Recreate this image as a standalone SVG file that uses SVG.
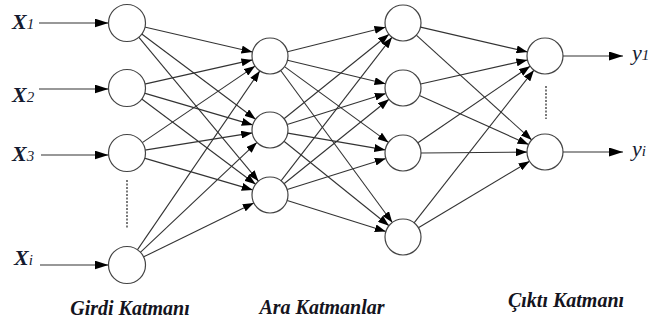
<svg xmlns="http://www.w3.org/2000/svg" width="649" height="323" viewBox="0 0 649 323">
<style>
.n{fill:#fff;stroke:#444;stroke-width:1.2}
.e{stroke:#333;stroke-width:1.1;fill:none;marker-end:url(#ah)}
.io{stroke:#333;stroke-width:1.2;fill:none;marker-end:url(#ahb)}
.d{stroke:#333;stroke-width:1.3;stroke-dasharray:2,1.5}
</style>
<defs>
<marker id="ah" markerUnits="userSpaceOnUse" markerWidth="11" markerHeight="8" refX="11" refY="4" orient="auto"><path d="M0,0 L11,4 L0,8 z" fill="#000"/></marker>
<marker id="ahb" markerUnits="userSpaceOnUse" markerWidth="14" markerHeight="9" refX="14" refY="4.5" orient="auto"><path d="M0,0 L14,4.5 L0,9 z" fill="#000"/></marker>
</defs>
<rect width="649" height="323" fill="#fff"/>
<g id="connectors">
<line class="io" x1="39" y1="23" x2="108.5" y2="23"/>
<line class="io" x1="39" y1="89" x2="108.5" y2="89"/>
<line class="io" x1="41" y1="155" x2="108.5" y2="155"/>
<line class="io" x1="40" y1="265" x2="108.5" y2="265"/>
<line class="e" x1="144.5" y1="27.0" x2="252.5" y2="52.0"/>
<line class="e" x1="141.4" y1="33.8" x2="255.6" y2="119.2"/>
<line class="e" x1="138.5" y1="36.8" x2="258.5" y2="181.2"/>
<line class="e" x1="144.6" y1="84.1" x2="252.4" y2="59.9"/>
<line class="e" x1="144.3" y1="93.1" x2="252.7" y2="124.9"/>
<line class="e" x1="141.4" y1="98.8" x2="255.6" y2="184.2"/>
<line class="e" x1="141.9" y1="142.9" x2="255.1" y2="66.1"/>
<line class="e" x1="144.8" y1="150.1" x2="252.2" y2="132.9"/>
<line class="e" x1="144.3" y1="158.1" x2="252.7" y2="189.9"/>
<line class="e" x1="137.2" y1="250.1" x2="259.8" y2="70.9"/>
<line class="e" x1="140.1" y1="252.6" x2="256.9" y2="142.4"/>
<line class="e" x1="143.2" y1="257.1" x2="253.8" y2="202.9"/>
<line class="e" x1="287.5" y1="51.7" x2="385.5" y2="27.3"/>
<line class="e" x1="287.5" y1="60.2" x2="385.5" y2="83.8"/>
<line class="e" x1="284.5" y1="66.6" x2="388.5" y2="142.4"/>
<line class="e" x1="280.7" y1="70.5" x2="392.3" y2="222.5"/>
<line class="e" x1="284.0" y1="118.7" x2="389.0" y2="34.3"/>
<line class="e" x1="287.2" y1="124.6" x2="385.8" y2="93.4"/>
<line class="e" x1="287.7" y1="133.1" x2="385.3" y2="149.9"/>
<line class="e" x1="284.0" y1="141.3" x2="389.0" y2="225.7"/>
<line class="e" x1="281.0" y1="180.8" x2="392.0" y2="37.2"/>
<line class="e" x1="284.0" y1="183.7" x2="389.0" y2="99.3"/>
<line class="e" x1="287.2" y1="189.6" x2="385.8" y2="158.4"/>
<line class="e" x1="287.2" y1="200.4" x2="385.8" y2="231.6"/>
<line class="e" x1="420.5" y1="27.1" x2="527.5" y2="51.9"/>
<line class="e" x1="416.3" y1="35.1" x2="531.7" y2="139.9"/>
<line class="e" x1="420.6" y1="84.0" x2="527.4" y2="60.0"/>
<line class="e" x1="419.4" y1="95.4" x2="528.6" y2="144.6"/>
<line class="e" x1="417.9" y1="142.8" x2="530.1" y2="66.2"/>
<line class="e" x1="421" y1="153" x2="527" y2="152.1"/>
<line class="e" x1="414.1" y1="222.8" x2="533.9" y2="70.2"/>
<line class="e" x1="418.4" y1="227.8" x2="529.6" y2="161.2"/>
<line class="io" x1="563" y1="56" x2="623" y2="56"/>
<line class="io" x1="563" y1="152" x2="623" y2="152"/>
<line class="d" x1="127" y1="180" x2="127" y2="229"/>
<line class="d" x1="546" y1="86" x2="546" y2="119"/>
</g>
<g id="input-layer">
<circle class="n" cx="127" cy="23" r="18.5"/>
<circle class="n" cx="127" cy="88" r="18.5"/>
<circle class="n" cx="127" cy="153" r="18.5"/>
<circle class="n" cx="127" cy="265" r="18.5"/>
</g>
<g id="hidden-layer-1">
<circle class="n" cx="270" cy="56" r="18"/>
<circle class="n" cx="270" cy="130" r="18"/>
<circle class="n" cx="270" cy="195" r="18"/>
</g>
<g id="hidden-layer-2">
<circle class="n" cx="403" cy="23" r="18"/>
<circle class="n" cx="403" cy="88" r="18"/>
<circle class="n" cx="403" cy="153" r="18"/>
<circle class="n" cx="403" cy="237" r="18"/>
</g>
<g id="output-layer">
<circle class="n" cx="545" cy="56" r="18"/>
<circle class="n" cx="545" cy="152" r="18"/>
</g>
<g id="inputs" font-family="Liberation Serif, serif" font-style="italic" font-weight="bold" font-size="22" fill="#141a30">
<text x="12" y="29">X<tspan font-weight="normal" font-size="15">1</tspan></text>
<text x="12" y="102">X<tspan font-weight="normal" font-size="15">2</tspan></text>
<text x="12" y="161">X<tspan font-weight="normal" font-size="15">3</tspan></text>
<text x="14" y="265">X<tspan font-weight="normal" font-size="15">i</tspan></text>
</g>
<g id="outputs" font-family="Liberation Serif, serif" font-style="italic" font-size="22" fill="#141a30">
<text x="632" y="60">y<tspan font-size="15">1</tspan></text>
<text x="632" y="156">y<tspan font-size="15">i</tspan></text>
</g>
<g id="labels" font-family="Liberation Serif, serif" font-style="italic" font-weight="bold" font-size="20" fill="#141420" text-anchor="middle">
<text x="130" y="315">Girdi Katmanı</text>
<text x="322" y="314">Ara Katmanlar</text>
<text x="566" y="307">Çıktı Katmanı</text>
</g>
</svg>
